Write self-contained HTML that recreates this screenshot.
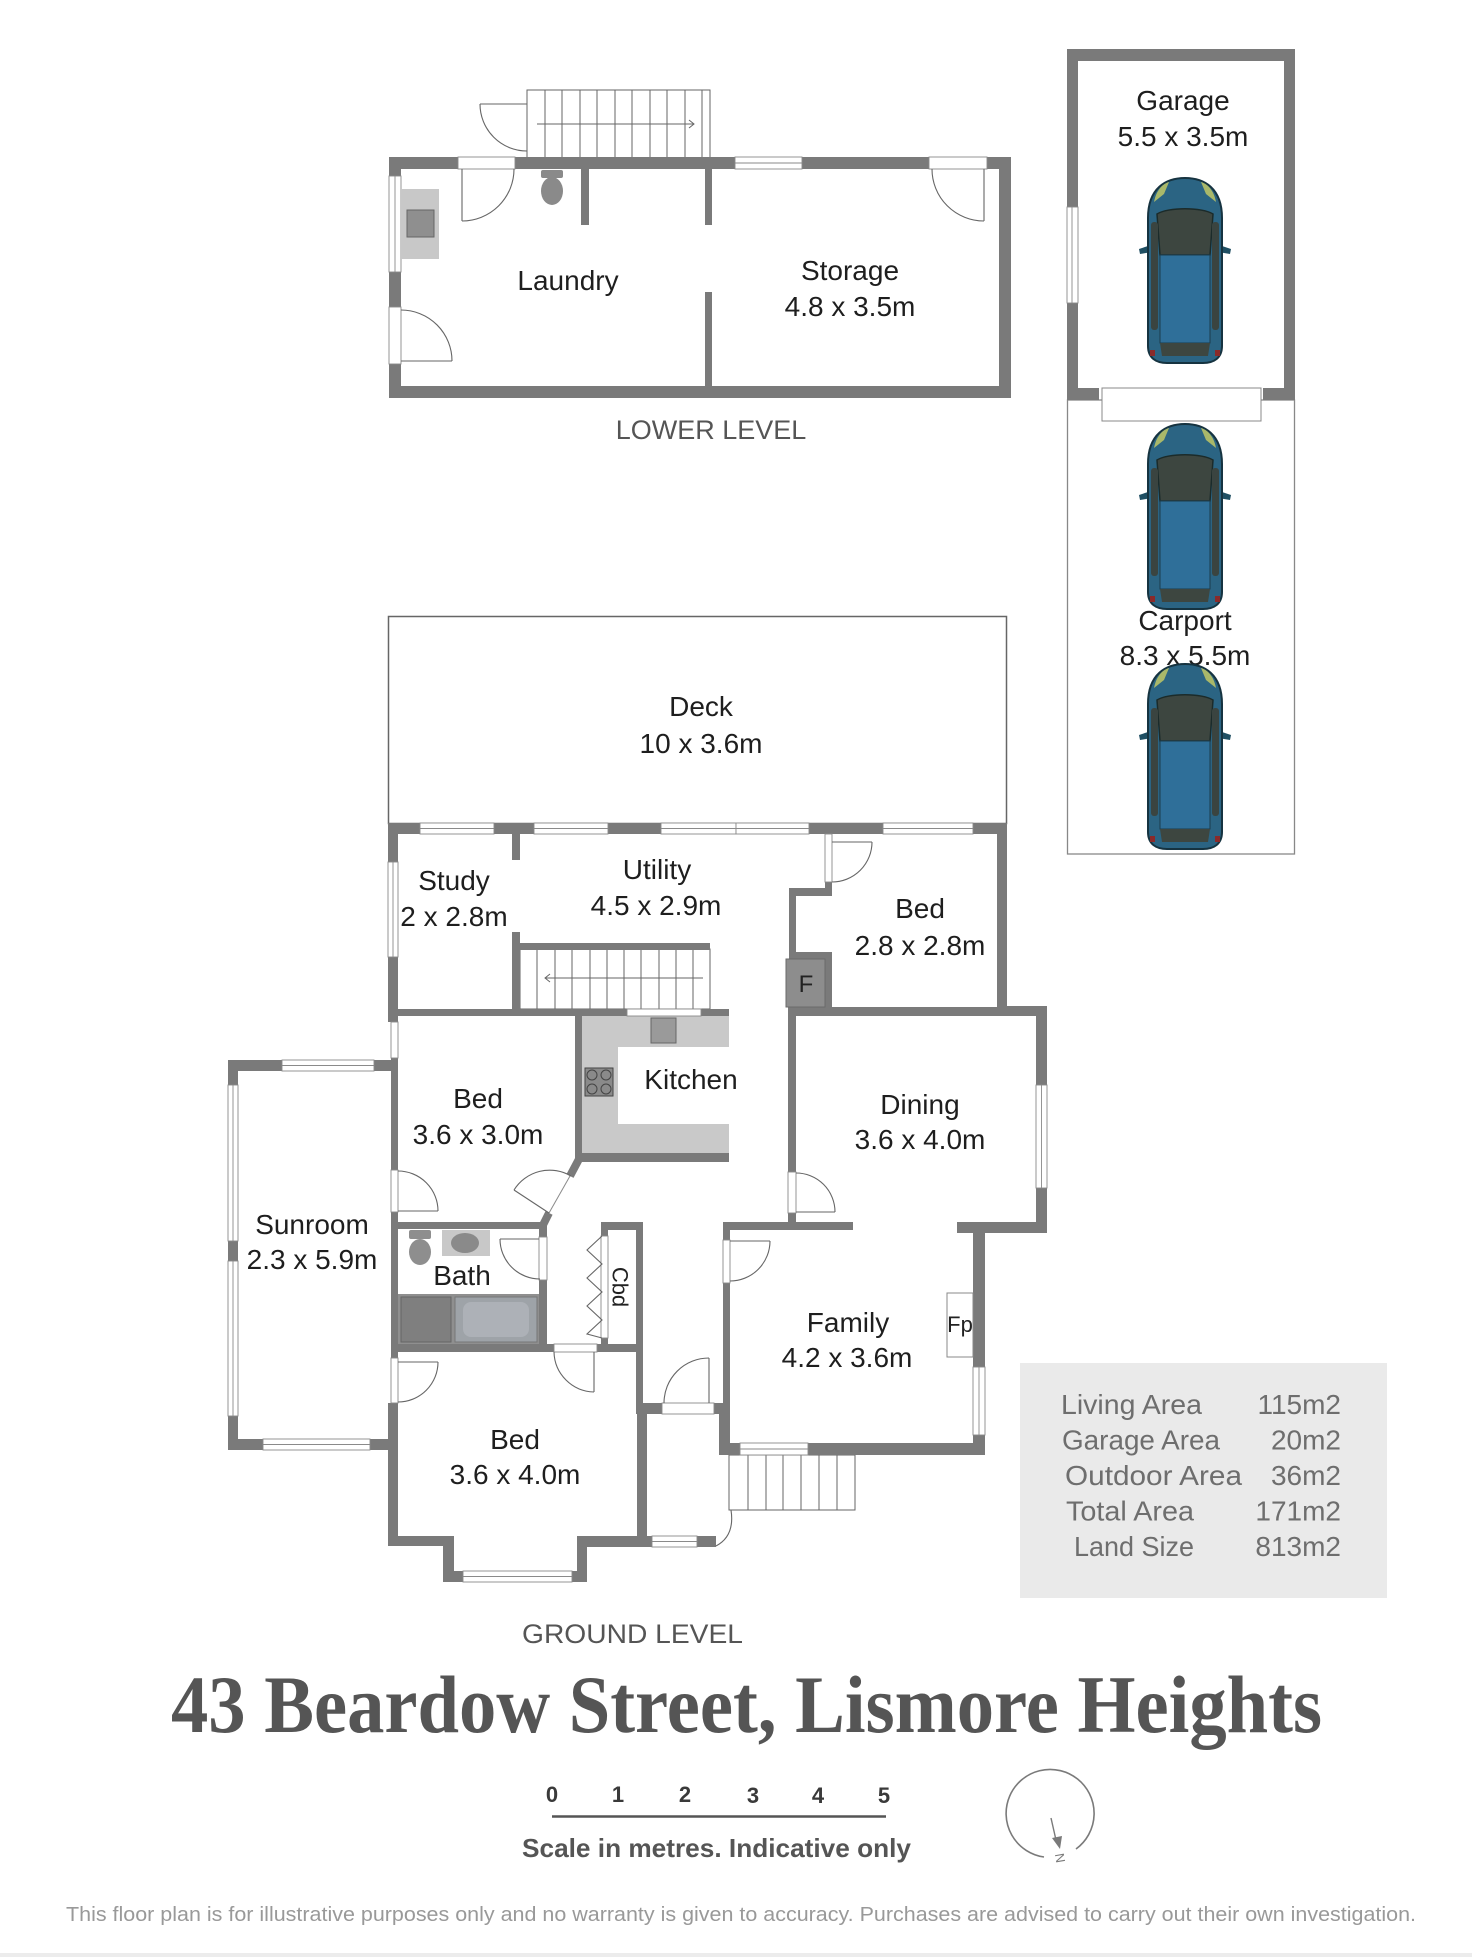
<!DOCTYPE html>
<html><head><meta charset="utf-8"><style>
html,body{margin:0;padding:0;background:#fff;}
svg{display:block}
text{font-family:"Liberation Sans",sans-serif;}
.rl{font-size:28px;fill:#1e1e1e;text-anchor:middle;}
.w{fill:#7a7a7a;}
.win{fill:#fff;stroke:#8a8a8a;stroke-width:0.9;}
.ln{stroke:#8a8a8a;stroke-width:0.9;fill:none;}
.dr{stroke:#666;stroke-width:1.1;fill:none;}
.st{stroke:#666;stroke-width:1;fill:none;}
.ar{font-size:28px;fill:#6e6e6e;}
</style></head><body>
<svg width="1472" height="1957" viewBox="0 0 1472 1957" xmlns="http://www.w3.org/2000/svg">
<defs>
<g id="car">
 <path d="M3,67 L-9,71 L-8,76 L4,74 Z" fill="#1f4f63"/>
 <path d="M71,67 L83,71 L82,76 L70,74 Z" fill="#1f4f63"/>
 <path d="M0,40 C0,10 18,0 37,0 C56,0 74,10 74,40 L74,168 C74,180 66,185 55,185 L19,185 C8,185 0,180 0,168 Z" fill="#2b6483" stroke="#163340" stroke-width="2"/>
 <path d="M6,24 C8,13 14,6 21,4 L16,16 Z" fill="#a9b86a"/>
 <path d="M68,24 C66,13 60,6 53,4 L58,16 Z" fill="#a9b86a"/>
 <path d="M9,36 C20,29 54,29 65,36 L62,77 L12,77 Z" fill="#3d4640" stroke="#1b2b2a" stroke-width="1.5"/>
 <rect x="3" y="44" width="7" height="108" rx="3" fill="#3a4440"/>
 <rect x="64" y="44" width="7" height="108" rx="3" fill="#3a4440"/>
 <rect x="12" y="77" width="50" height="88" fill="#2f6f99" stroke="#1b3c4d" stroke-width="1"/>
 <path d="M12,165 L62,165 L60,178 L14,178 Z" fill="#3d4640"/>
 <rect x="2" y="172" width="5" height="6" fill="#8a2a2a"/>
 <rect x="67" y="172" width="5" height="6" fill="#8a2a2a"/>
</g>
</defs>

<!-- ================= LOWER LEVEL ================= -->
<!-- outside stairs -->
<rect x="527" y="90" width="183" height="68" class="st"/>
<g class="st">
<line x1="545" y1="90" x2="545" y2="158"/><line x1="562" y1="90" x2="562" y2="158"/>
<line x1="580" y1="90" x2="580" y2="158"/><line x1="597" y1="90" x2="597" y2="158"/>
<line x1="615" y1="90" x2="615" y2="158"/><line x1="632" y1="90" x2="632" y2="158"/>
<line x1="650" y1="90" x2="650" y2="158"/><line x1="667" y1="90" x2="667" y2="158"/>
<line x1="685" y1="90" x2="685" y2="158"/><line x1="702" y1="90" x2="702" y2="158"/>
<line x1="537" y1="124" x2="694" y2="124"/>
<polyline points="689,120 694,124 689,128"/>
</g>
<line x1="480" y1="104" x2="527" y2="104" class="dr"/>
<path d="M480,104 A47,47 0 0 0 527,151" class="dr"/>

<g class="w">
<rect x="389" y="157" width="69" height="12"/>
<rect x="515" y="157" width="220" height="12"/>
<rect x="802" y="157" width="127" height="12"/>
<rect x="987" y="157" width="24" height="12"/>
<rect x="389" y="157" width="12" height="19"/>
<rect x="389" y="272" width="12" height="35"/>
<rect x="389" y="364" width="12" height="34"/>
<rect x="999" y="157" width="12" height="241"/>
<rect x="389" y="386" width="622" height="12"/>
<rect x="581" y="169" width="8" height="56"/>
<rect x="705" y="169" width="7" height="56"/>
<rect x="705" y="292" width="7" height="94"/>
</g>
<rect x="735" y="157" width="67" height="12" class="win"/><line x1="735" y1="163" x2="802" y2="163" class="ln"/>
<rect x="389" y="176" width="12" height="96" class="win"/><line x1="395" y1="176" x2="395" y2="272" class="ln"/>
<!-- door frames -->
<rect x="458" y="157" width="57" height="12" class="win"/>
<rect x="929" y="157" width="58" height="12" class="win"/>
<rect x="389" y="307" width="12" height="57" class="win"/>
<!-- doors -->
<line x1="462" y1="169" x2="462" y2="221" class="dr"/>
<path d="M462,221 A52,52 0 0 0 514,169" class="dr"/>
<line x1="984" y1="169" x2="984" y2="221" class="dr"/>
<path d="M984,221 A52,52 0 0 1 932,169" class="dr"/>
<line x1="401" y1="361" x2="452" y2="361" class="dr"/>
<path d="M452,361 A51,51 0 0 0 401,310" class="dr"/>
<!-- sink counter -->
<rect x="401" y="189" width="38" height="70" fill="#c8c8c8"/>
<rect x="407" y="210" width="27" height="27" fill="#8f8f8f" stroke="#666" stroke-width="1"/>
<!-- toilet -->
<rect x="541" y="170" width="22" height="8" rx="2" fill="#8a8a8a"/>
<ellipse cx="552" cy="191" rx="11" ry="14" fill="#8a8a8a"/>

<text class="rl" x="568" y="290">Laundry</text>
<text class="rl" x="850" y="280">Storage</text>
<text class="rl" x="850" y="316">4.8 x 3.5m</text>
<text x="711" y="439" font-size="27" fill="#555" text-anchor="middle">LOWER LEVEL</text>

<!-- ================= GARAGE / CARPORT ================= -->
<rect x="1067.5" y="400" width="227" height="454" fill="none" stroke="#888" stroke-width="1.3"/>
<g class="w">
<rect x="1067" y="49" width="228" height="12"/>
<rect x="1067" y="49" width="11" height="158"/>
<rect x="1067" y="303" width="11" height="97"/>
<rect x="1284" y="49" width="11" height="351"/>
<rect x="1067" y="388" width="32" height="12"/>
<rect x="1263" y="388" width="32" height="12"/>
</g>
<rect x="1067" y="207" width="11" height="96" class="win"/><line x1="1072" y1="207" x2="1072" y2="303" class="ln"/>
<rect x="1102" y="388" width="159" height="33" fill="#fff" stroke="#888" stroke-width="1"/>
<text class="rl" x="1183" y="110">Garage</text>
<text class="rl" x="1183" y="146">5.5 x 3.5m</text>
<use href="#car" x="1148" y="178"/>
<use href="#car" x="1148" y="424"/>
<text class="rl" x="1185" y="630">Carport</text>
<text class="rl" x="1185" y="665">8.3 x 5.5m</text>
<use href="#car" x="1148" y="664"/>

<!-- ================= DECK ================= -->
<rect x="388.5" y="616.5" width="618" height="207" fill="none" stroke="#666" stroke-width="1.5"/>
<text class="rl" x="701" y="716">Deck</text>
<text class="rl" x="701" y="753">10 x 3.6m</text>

<!-- ================= GROUND LEVEL ================= -->
<!-- kitchen counters -->
<rect x="582" y="1016" width="147" height="31" fill="#c9c9c9"/>
<rect x="582" y="1016" width="36" height="137" fill="#c9c9c9"/>
<rect x="582" y="1124" width="147" height="29" fill="#c9c9c9"/>
<rect x="651" y="1018" width="25" height="25" fill="#9a9a9a" stroke="#666" stroke-width="1"/>
<rect x="585" y="1068" width="28" height="28" fill="#8a8a8a" stroke="#444" stroke-width="1"/>
<g stroke="#444" stroke-width="1" fill="none">
<circle cx="592" cy="1075" r="5"/><circle cx="606" cy="1075" r="5"/>
<circle cx="592" cy="1089" r="5"/><circle cx="606" cy="1089" r="5"/>
</g>
<!-- ground stairs -->
<rect x="520" y="949" width="190" height="60" class="st"/>
<g class="st">
<line x1="537" y1="949" x2="537" y2="1009"/><line x1="555" y1="949" x2="555" y2="1009"/>
<line x1="572" y1="949" x2="572" y2="1009"/><line x1="590" y1="949" x2="590" y2="1009"/>
<line x1="607" y1="949" x2="607" y2="1009"/><line x1="624" y1="949" x2="624" y2="1009"/>
<line x1="641" y1="949" x2="641" y2="1009"/><line x1="659" y1="949" x2="659" y2="1009"/>
<line x1="676" y1="949" x2="676" y2="1009"/><line x1="693" y1="949" x2="693" y2="1009"/>
<line x1="545" y1="978" x2="703" y2="978"/>
<polyline points="550,974 545,978 550,982"/>
</g>
<!-- family steps -->
<rect x="729" y="1455" width="126" height="55" class="st"/>
<g class="st">
<line x1="748" y1="1455" x2="748" y2="1510"/><line x1="766" y1="1455" x2="766" y2="1510"/>
<line x1="783" y1="1455" x2="783" y2="1510"/><line x1="801" y1="1455" x2="801" y2="1510"/>
<line x1="819" y1="1455" x2="819" y2="1510"/><line x1="837" y1="1455" x2="837" y2="1510"/>
</g>
<!-- bath fixtures -->
<rect x="409" y="1230" width="22" height="9" rx="2" fill="#8e8e8e"/>
<ellipse cx="420" cy="1252" rx="11" ry="13" fill="#8e8e8e"/>
<rect x="442" y="1230" width="48" height="26" fill="#c8c8c8"/>
<ellipse cx="465" cy="1243" rx="14" ry="10" fill="#8a8a8a"/>
<rect x="398" y="1294" width="141" height="50" fill="#8f8f8f"/>
<rect x="401" y="1297" width="50" height="45" fill="#7f7f7f" stroke="#666" stroke-width="1"/>
<rect x="455" y="1297" width="82" height="45" fill="#9ea3a8" stroke="#777" stroke-width="1"/>
<rect x="463" y="1302" width="66" height="35" rx="8" fill="#adb1b7"/>

<g class="w">
<!-- top wall -->
<rect x="388" y="823" width="32" height="11"/>
<rect x="494" y="823" width="40" height="11"/>
<rect x="608" y="823" width="53" height="11"/>
<rect x="809" y="823" width="74" height="11"/>
<rect x="973" y="823" width="34" height="11"/>
<!-- left study -->
<rect x="388" y="823" width="10" height="39"/>
<rect x="388" y="957" width="10" height="65"/>
<rect x="391" y="1058" width="7" height="112"/>
<rect x="391" y="1212" width="7" height="146"/>
<rect x="388" y="1403" width="10" height="143"/>
<!-- study right -->
<rect x="512" y="834" width="8" height="26"/>
<rect x="512" y="932" width="8" height="77"/>
<!-- study bottom -->
<rect x="388" y="1009" width="239" height="7"/>
<rect x="701" y="1009" width="28" height="7"/>
<!-- stair top -->
<rect x="520" y="943" width="190" height="7"/>
<!-- bed 2.8 -->
<rect x="825" y="882" width="7" height="14"/>
<rect x="789" y="888" width="43" height="8"/>
<rect x="789" y="888" width="7" height="71"/>
<rect x="789" y="952" width="43" height="7"/>
<rect x="825" y="952" width="7" height="64"/>
<rect x="788" y="1007" width="259" height="9"/>
<rect x="997" y="823" width="10" height="193"/>
<rect x="997" y="1006" width="50" height="10"/>
<!-- dining -->
<rect x="1036" y="1006" width="11" height="79"/>
<rect x="1036" y="1188" width="11" height="45"/>
<rect x="788" y="1016" width="8" height="156"/>
<rect x="788" y="1213" width="8" height="9"/>
<rect x="957" y="1222" width="90" height="11"/>
<!-- family -->
<rect x="723" y="1222" width="130" height="8"/>
<rect x="973" y="1222" width="12" height="145"/>
<rect x="973" y="1435" width="12" height="20"/>
<rect x="723" y="1222" width="7" height="18"/>
<rect x="723" y="1283" width="7" height="120"/>
<rect x="719" y="1403" width="11" height="52"/>
<rect x="719" y="1443" width="21" height="12"/>
<rect x="808" y="1443" width="177" height="12"/>
<!-- kitchen -->
<rect x="575" y="1016" width="7" height="146"/>
<rect x="575" y="1153" width="154" height="9"/>
<!-- bath -->
<rect x="398" y="1222" width="149" height="7"/>
<rect x="539" y="1222" width="8" height="15"/>
<rect x="539" y="1280" width="8" height="64"/>
<rect x="391" y="1344" width="163" height="8"/>
<rect x="597" y="1344" width="46" height="8"/>
<!-- cbd -->
<rect x="601" y="1222" width="42" height="8"/>
<rect x="636" y="1222" width="7" height="183"/>
<rect x="601" y="1222" width="7" height="14"/>
<rect x="601" y="1338" width="7" height="7"/>
<!-- entry -->
<rect x="636" y="1403" width="26" height="11"/>
<rect x="714" y="1403" width="16" height="11"/>
<rect x="637" y="1403" width="10" height="144"/>
<rect x="697" y="1536" width="19" height="11"/>
<!-- bed 4.0 bottom -->
<rect x="388" y="1536" width="66" height="10"/>
<rect x="443" y="1536" width="11" height="46"/>
<rect x="443" y="1571" width="20" height="11"/>
<rect x="572" y="1571" width="15" height="11"/>
<rect x="577" y="1536" width="10" height="46"/>
<rect x="577" y="1536" width="75" height="11"/>
<!-- sunroom -->
<rect x="228" y="1060" width="54" height="11"/>
<rect x="374" y="1060" width="24" height="11"/>
<rect x="228" y="1060" width="10" height="25"/>
<rect x="228" y="1241" width="10" height="20"/>
<rect x="228" y="1416" width="10" height="34"/>
<rect x="228" y="1439" width="35" height="11"/>
<rect x="370" y="1439" width="28" height="11"/>
</g>
<!-- diagonal wall -->
<line x1="578.5" y1="1160" x2="570" y2="1176" stroke="#7a7a7a" stroke-width="8"/>
<line x1="549" y1="1213" x2="543" y2="1225" stroke="#7a7a7a" stroke-width="8"/>
<line x1="570" y1="1176" x2="549" y2="1213" stroke="#8a8a8a" stroke-width="1"/>
<line x1="549" y1="1213" x2="514" y2="1190" class="dr"/>
<path d="M514,1190 A42,42 0 0 1 571,1176" class="dr"/>

<!-- F box -->
<rect x="786" y="959" width="39" height="48" fill="#8d8d8d" stroke="#6a6a6a" stroke-width="1"/>
<text x="806" y="992" font-size="24" fill="#222" text-anchor="middle">F</text>

<!-- windows ground -->
<g>
<rect x="420" y="823" width="74" height="11" class="win"/><line x1="420" y1="828.5" x2="494" y2="828.5" class="ln"/>
<rect x="534" y="823" width="74" height="11" class="win"/><line x1="534" y1="828.5" x2="608" y2="828.5" class="ln"/>
<rect x="661" y="823" width="75" height="11" class="win"/><line x1="661" y1="828.5" x2="736" y2="828.5" class="ln"/>
<rect x="736" y="823" width="73" height="11" class="win"/><line x1="736" y1="828.5" x2="809" y2="828.5" class="ln"/>
<rect x="883" y="823" width="90" height="11" class="win"/><line x1="883" y1="828.5" x2="973" y2="828.5" class="ln"/>
<rect x="388" y="862" width="10" height="95" class="win"/><line x1="393" y1="862" x2="393" y2="957" class="ln"/>
<rect x="391" y="1022" width="7" height="36" class="win"/>
<rect x="627" y="1009" width="74" height="7" class="win"/>
<rect x="1036" y="1085" width="11" height="103" class="win"/><line x1="1041.5" y1="1085" x2="1041.5" y2="1188" class="ln"/>
<rect x="973" y="1367" width="12" height="68" class="win"/><line x1="979" y1="1367" x2="979" y2="1435" class="ln"/>
<rect x="740" y="1443" width="68" height="12" class="win"/><line x1="740" y1="1449" x2="808" y2="1449" class="ln"/>
<rect x="463" y="1571" width="109" height="11" class="win"/><line x1="463" y1="1576.5" x2="572" y2="1576.5" class="ln"/>
<rect x="652" y="1536" width="45" height="11" class="win"/><line x1="652" y1="1541.5" x2="697" y2="1541.5" class="ln"/>
<rect x="282" y="1060" width="92" height="11" class="win"/><line x1="282" y1="1065.5" x2="374" y2="1065.5" class="ln"/>
<rect x="228" y="1085" width="10" height="156" class="win"/><line x1="233" y1="1085" x2="233" y2="1241" class="ln"/>
<rect x="228" y="1261" width="10" height="155" class="win"/><line x1="233" y1="1261" x2="233" y2="1416" class="ln"/>
<rect x="263" y="1439" width="107" height="11" class="win"/><line x1="263" y1="1444.5" x2="370" y2="1444.5" class="ln"/>
<rect x="601" y="1236" width="7" height="102" class="win"/>
</g>
<!-- door frames -->
<rect x="825" y="834" width="7" height="48" class="win"/>
<rect x="391" y="1170" width="7" height="42" class="win"/>
<rect x="391" y="1358" width="7" height="45" class="win"/>
<rect x="788" y="1172" width="8" height="41" class="win"/>
<rect x="723" y="1240" width="7" height="43" class="win"/>
<rect x="539" y="1237" width="8" height="43" class="win"/>
<rect x="554" y="1344" width="43" height="8" class="win"/>
<rect x="662" y="1403" width="52" height="11" class="win"/>

<!-- doors -->
<line x1="832" y1="842" x2="872" y2="842" class="dr"/>
<path d="M872,842 A40,40 0 0 1 832,882" class="dr"/>
<line x1="398" y1="1211" x2="438" y2="1211" class="dr"/>
<path d="M438,1211 A40,40 0 0 0 398,1171" class="dr"/>
<line x1="398" y1="1362" x2="438" y2="1362" class="dr"/>
<path d="M438,1362 A40,40 0 0 1 398,1402" class="dr"/>
<line x1="796" y1="1212" x2="835" y2="1212" class="dr"/>
<path d="M835,1212 A39,39 0 0 0 796,1173" class="dr"/>
<line x1="730" y1="1241" x2="770" y2="1241" class="dr"/>
<path d="M770,1241 A40,40 0 0 1 730,1281" class="dr"/>
<line x1="539" y1="1239" x2="500" y2="1239" class="dr"/>
<path d="M500,1239 A40,40 0 0 0 540,1279" class="dr"/>
<line x1="594" y1="1352" x2="594" y2="1392" class="dr"/>
<path d="M594,1392 A41,41 0 0 1 554,1352" class="dr"/>
<line x1="709" y1="1403" x2="709" y2="1358" class="dr"/>
<path d="M709,1358 A45,45 0 0 0 664,1403" class="dr"/>
<path d="M731,1510 Q735,1536 716,1546" class="dr"/>
<!-- bifold -->
<polyline points="602,1236 587,1250 602,1264 587,1278 602,1292 587,1306 602,1320 587,1334 602,1338" class="dr"/>

<!-- Fp -->
<rect x="947" y="1293" width="26" height="64" fill="#fff" stroke="#888" stroke-width="1"/>
<text x="960" y="1332" font-size="22" fill="#222" text-anchor="middle">Fp</text>

<!-- room labels -->
<text class="rl" x="454" y="890">Study</text>
<text class="rl" x="454" y="926">2 x 2.8m</text>
<text class="rl" x="657" y="879">Utility</text>
<text class="rl" x="656" y="915">4.5 x 2.9m</text>
<text class="rl" x="920" y="918">Bed</text>
<text class="rl" x="920" y="955">2.8 x 2.8m</text>
<text class="rl" x="691" y="1089">Kitchen</text>
<text class="rl" x="478" y="1108">Bed</text>
<text class="rl" x="478" y="1144">3.6 x 3.0m</text>
<text class="rl" x="920" y="1114">Dining</text>
<text class="rl" x="920" y="1149">3.6 x 4.0m</text>
<text class="rl" x="312" y="1234">Sunroom</text>
<text class="rl" x="312" y="1269">2.3 x 5.9m</text>
<text class="rl" x="462" y="1285">Bath</text>
<text x="620" y="1287" font-size="22" fill="#222" text-anchor="middle" dominant-baseline="central" transform="rotate(90 620 1287)">Cbd</text>
<text class="rl" x="848" y="1332">Family</text>
<text class="rl" x="847" y="1367">4.2 x 3.6m</text>
<text class="rl" x="515" y="1449">Bed</text>
<text class="rl" x="515" y="1484">3.6 x 4.0m</text>

<!-- area box -->
<rect x="1020" y="1363" width="367" height="235" fill="#eaeaea"/>
<text class="ar" x="1061" y="1414" textLength="141" lengthAdjust="spacingAndGlyphs">Living Area</text>
<text class="ar" x="1062" y="1449.5" textLength="158" lengthAdjust="spacingAndGlyphs">Garage Area</text>
<text class="ar" x="1065" y="1485" textLength="177" lengthAdjust="spacingAndGlyphs">Outdoor Area</text>
<text class="ar" x="1066" y="1520.5" textLength="128" lengthAdjust="spacingAndGlyphs">Total Area</text>
<text class="ar" x="1074" y="1556" textLength="120" lengthAdjust="spacingAndGlyphs">Land Size</text>
<text class="ar" x="1341" y="1414" text-anchor="end">115m2</text>
<text class="ar" x="1341" y="1449.5" text-anchor="end">20m2</text>
<text class="ar" x="1341" y="1485" text-anchor="end">36m2</text>
<text class="ar" x="1341" y="1520.5" text-anchor="end">171m2</text>
<text class="ar" x="1341" y="1556" text-anchor="end">813m2</text>

<!-- labels & title -->
<text x="522" y="1643" font-size="27" fill="#555" textLength="221" lengthAdjust="spacingAndGlyphs">GROUND LEVEL</text>
<text x="171" y="1732" font-size="82" font-weight="bold" fill="#555" style="font-family:'Liberation Serif',serif" textLength="1151" lengthAdjust="spacingAndGlyphs">43 Beardow Street, Lismore Heights</text>

<g font-size="22" fill="#3a3a3a" text-anchor="middle" font-weight="bold">
<text x="552" y="1802">0</text>
<text x="618" y="1802">1</text>
<text x="685" y="1802">2</text>
<text x="753" y="1803">3</text>
<text x="818" y="1803">4</text>
<text x="884" y="1803">5</text>
</g>
<line x1="552" y1="1816.5" x2="886" y2="1816.5" stroke="#555" stroke-width="2.5"/>
<text x="522" y="1857" font-size="26" font-weight="bold" fill="#555" textLength="389" lengthAdjust="spacingAndGlyphs">Scale in metres. Indicative only</text>

<!-- compass -->
<path d="M1076,1849 A44,44 0 1 0 1044,1857" fill="none" stroke="#7a7a7a" stroke-width="1.6"/>
<line x1="1051" y1="1818" x2="1056" y2="1840" stroke="#7a7a7a" stroke-width="1.4"/>
<path d="M1052,1838 L1060,1849 L1062,1836 Z" fill="#7a7a7a"/>
<text x="1060" y="1858" font-size="13" fill="#7a7a7a" text-anchor="middle" dominant-baseline="central" transform="rotate(-100 1060 1858)">N</text>

<!-- footer -->
<text x="66" y="1921" font-size="20" fill="#999" textLength="1350" lengthAdjust="spacingAndGlyphs">This floor plan is for illustrative purposes only and no warranty is given to accuracy. Purchases are advised to carry out their own investigation.</text>
<rect x="0" y="1953" width="1472" height="4" fill="#ececec"/>
</svg>
</body></html>
